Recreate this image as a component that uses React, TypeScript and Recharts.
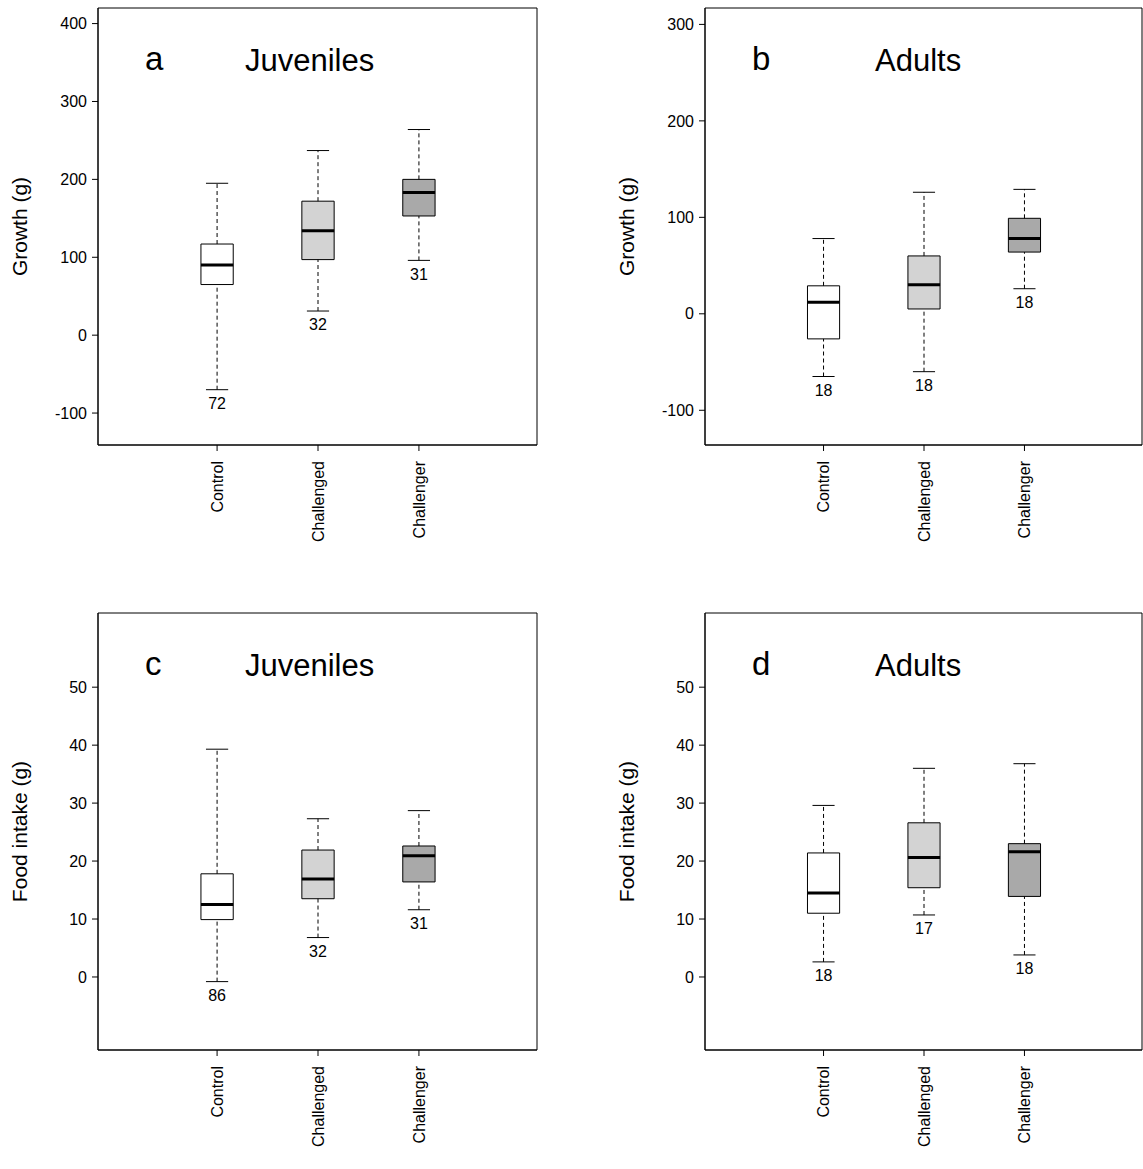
import React from "react";
import { ComposedChart, XAxis, YAxis, ReferenceArea, ReferenceLine, ReferenceDot } from "recharts";

const categories = ["Control", "Challenged", "Challenger"];
const fills = ["#ffffff", "#d3d3d3", "#a9a9a9"];

// [lowWhisker, q1, median, q3, highWhisker]
const juvGrowth = [[-70, 65, 90, 117, 195], [31, 97, 134, 172, 237], [96, 153, 183, 200, 264]];
const adultGrowth = [[-65, -26, 12, 29, 78], [-60, 5, 30, 60, 126], [26, 64, 78, 99, 129]];
const juvFood = [[-0.8, 9.9, 12.5, 17.8, 39.3], [6.8, 13.5, 16.9, 21.9, 27.3], [11.6, 16.4, 20.9, 22.6, 28.7]];
const adultFood = [[2.6, 11.0, 14.5, 21.4, 29.6], [10.7, 15.4, 20.6, 26.6, 36.0], [3.8, 13.9, 21.6, 23.0, 36.8]];

const juvGrowthN = [72, 32, 31];
const adultGrowthN = [18, 18, 18];
const juvFoodN = [86, 32, 31];
const adultFoodN = [18, 17, 18];

const growthTicksA = [-100, 0, 100, 200, 300, 400];
const growthTicksB = [-100, 0, 100, 200, 300];
const foodTicks = [0, 10, 20, 30, 40, 50];

const xDomain: [number, number] = [-0.18, 4.17];
const font = "'Liberation Sans', Arial, sans-serif";

const CatTick = (props: any) => {
  const { x, y, payload } = props;
  const ty = y + 8;
  return (
    <text x={x} y={ty} dy="0.35em" textAnchor="end" fontSize={16} fill="#000" fontFamily={font}
      transform={`rotate(-90, ${x}, ${ty})`}>
      {categories[payload.value - 1]}
    </text>
  );
};

type PanelProps = {
  left: number; top: number; width: number; right: number;
  stats: number[][]; counts: number[]; domain: [number, number]; ticks: number[];
  yLabel: string; letter: string; title: string; titleLeft: number;
};

function Panel({ left, top, width, right, stats, counts, domain, ticks, yLabel, letter, title, titleLeft }: PanelProps) {
  const hw = 0.16, cap = 0.11;
  const elems: React.ReactNode[] = [];
  stats.forEach((s, i) => {
    const x = i + 1;
    const [lo, q1, med, q3, hi] = s;
    elems.push(<ReferenceLine key={`wl${i}`} segment={[{ x, y: lo }, { x, y: q1 }]} stroke="#000" strokeDasharray="4 3" />);
    elems.push(<ReferenceLine key={`wh${i}`} segment={[{ x, y: q3 }, { x, y: hi }]} stroke="#000" strokeDasharray="4 3" />);
    elems.push(<ReferenceLine key={`cl${i}`} segment={[{ x: x - cap, y: lo }, { x: x + cap, y: lo }]} stroke="#000" />);
    elems.push(<ReferenceLine key={`ch${i}`} segment={[{ x: x - cap, y: hi }, { x: x + cap, y: hi }]} stroke="#000" />);
    elems.push(<ReferenceArea key={`b${i}`} x1={x - hw} x2={x + hw} y1={q1} y2={q3} fill={fills[i]} fillOpacity={1} stroke="#000" strokeWidth={1} />);
    elems.push(<ReferenceLine key={`m${i}`} segment={[{ x: x - hw, y: med }, { x: x + hw, y: med }]} stroke="#000" strokeWidth={3} />);
    elems.push(<ReferenceDot key={`n${i}`} x={x} y={lo} r={0} fill="none" stroke="none"
      label={{ value: String(counts[i]), position: "bottom", offset: 8, fontSize: 16, fill: "#000", fontFamily: font }} />);
  });
  return (
    <div style={{ position: "absolute", left, top, width, height: 570 }}>
      <ComposedChart width={width} height={570} data={[{ x: 1 }, { x: 2 }, { x: 3 }]}
        margin={{ top: 8, right, bottom: 0, left: 38 }}>
        <XAxis dataKey="x" type="number" domain={xDomain} ticks={[1, 2, 3]} tick={<CatTick />}
          height={125} stroke="#000" tickLine={{ stroke: "#000" }} tickSize={6} allowDataOverflow />
        <YAxis type="number" domain={domain} ticks={ticks} width={60} stroke="#000" tickSize={6} allowDataOverflow
          tick={{ fill: "#000", fontSize: 16, fontFamily: font, dx: -3 }}
          label={{ value: yLabel, angle: -90, position: "insideLeft", offset: -18, style: { textAnchor: "middle", fontSize: 21, fontFamily: font, fill: "#000" } }} />
        <ReferenceArea x1={xDomain[0]} x2={xDomain[1]} y1={domain[0]} y2={domain[1]} fill="none" stroke="#000" strokeWidth={1} />
        {elems}
      </ComposedChart>
      <div style={{ position: "absolute", left: 145, top: 40, fontSize: 33, fontFamily: font }}>{letter}</div>
      <div style={{ position: "absolute", left: titleLeft, top: 43, fontSize: 31, fontFamily: font }}>{title}</div>
    </div>
  );
}

export default function App() {
  return (
    <div style={{ position: "absolute", left: 0, top: 0, width: 1143, height: 1169, background: "#fff" }}>
      <Panel left={0} top={0} width={560} right={23} stats={juvGrowth} counts={juvGrowthN} domain={[-141, 420]} ticks={growthTicksA} yLabel="Growth (g)" letter="a" title="Juveniles" titleLeft={245} />
      <Panel left={607} top={0} width={536} right={1} stats={adultGrowth} counts={adultGrowthN} domain={[-136, 317]} ticks={growthTicksB} yLabel="Growth (g)" letter="b" title="Adults" titleLeft={268} />
      <Panel left={0} top={605} width={560} right={23} stats={juvFood} counts={juvFoodN} domain={[-12.6, 62.8]} ticks={foodTicks} yLabel="Food intake (g)" letter="c" title="Juveniles" titleLeft={245} />
      <Panel left={607} top={605} width={536} right={1} stats={adultFood} counts={adultFoodN} domain={[-12.6, 62.8]} ticks={foodTicks} yLabel="Food intake (g)" letter="d" title="Adults" titleLeft={268} />
    </div>
  );
}
